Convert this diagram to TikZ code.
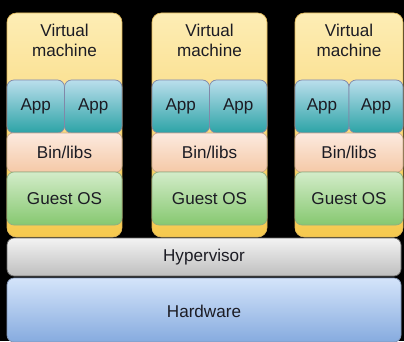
\documentclass[tikz,border=0pt]{standalone}
\usepackage{fontspec}
\setmainfont{Liberation Sans}
\usetikzlibrary{positioning}
\definecolor{vmtop}{HTML}{FDEDB5}
\definecolor{vmbot}{HTML}{F6C94E}
\definecolor{vmedge}{HTML}{E0B858}
\definecolor{apptop}{HTML}{BADEEC}
\definecolor{appbot}{HTML}{2CA3A6}
\definecolor{appedge}{HTML}{8088A8}
\definecolor{bintop}{HTML}{FCEADF}
\definecolor{binbot}{HTML}{F5C9A7}
\definecolor{binedge}{HTML}{C8A88E}
\definecolor{ostop}{HTML}{D3ECC9}
\definecolor{osbot}{HTML}{86C870}
\definecolor{osedge}{HTML}{90AE82}
\definecolor{hvtop}{HTML}{F3F3F3}
\definecolor{hvbot}{HTML}{BEBEBE}
\definecolor{hvedge}{HTML}{6A6A6A}
\definecolor{hwtop}{HTML}{D4E4FA}
\definecolor{hwbot}{HTML}{86ABDF}
\definecolor{hwedge}{HTML}{8296B6}
\definecolor{ink}{HTML}{1C1C24}
\tikzset{box/.style={rectangle, inner sep=0pt, outer sep=0pt, anchor=north west, line width=0.6pt},
         vmbox/.style={box, rounded corners=8pt, draw=vmedge, top color=vmtop, middle color=vmtop, bottom color=vmbot},
         appbox/.style={box, rounded corners=6pt, draw=appedge, top color=apptop, bottom color=appbot},
         binbox/.style={box, rounded corners=5pt, draw=binedge, top color=bintop, bottom color=binbot},
         osbox/.style={box, rounded corners=6pt, draw=osedge, top color=ostop, bottom color=osbot},
         hvbox/.style={box, rounded corners=6pt, draw=hvedge, top color=hvtop, bottom color=hvbot},
         hwbox/.style={box, rounded corners=6pt, draw=hwedge, top color=hwtop, bottom color=hwbot},
         txt/.style={text=ink, font=\fontsize{14.6}{17}\selectfont, align=center, inner sep=0pt}}

\begin{document}
\begin{tikzpicture}[x=0.03cm, y=-0.03cm]
  \useasboundingbox (0,0) rectangle (404,341);
  \fill[black] (0,0) rectangle (404,341);
  \clip (0,0) rectangle (404,341);

  % the three virtual machines
  \foreach \x/\w/\n in {7/115/a, 152/115/b, 295/108/c} {
    \node[vmbox, minimum width=\w*0.03cm, minimum height=224*0.03cm] (vm-\n) at (\x,13) {};
    \node[txt] (vmname-\n) at (\x+\w/2,40) {Virtual\\machine};
    \node[appbox, minimum width=\w/2*0.03cm, minimum height=53*0.03cm] (appl-\n) at (\x,80) {};
    \node[appbox, minimum width=\w/2*0.03cm, minimum height=53*0.03cm] (appr-\n) at (\x+\w/2,80) {};
    \node[txt] at (appl-\n.center) {App};
    \node[txt] at (appr-\n.center) {App};
    \node[binbox, minimum width=\w*0.03cm, minimum height=39*0.03cm] (bin-\n) at (\x,133) {};
    \node[txt] at (bin-\n.center) {Bin/libs};
    \node[osbox, minimum width=\w*0.03cm, minimum height=53*0.03cm] (os-\n) at (\x,172) {};
    \node[txt] at (os-\n.center) {Guest OS};
  }

  \node[hvbox, minimum width=394*0.03cm, minimum height=38*0.03cm] (hv) at (7,238) {};
  \node[txt] at (hv.center) {Hypervisor};
  \node[hwbox, minimum width=394*0.03cm, minimum height=64*0.03cm] (hw) at (7,278) {};
  \node[txt, yshift=-1pt] at (hw.center) {Hardware};
\end{tikzpicture}
\end{document}
